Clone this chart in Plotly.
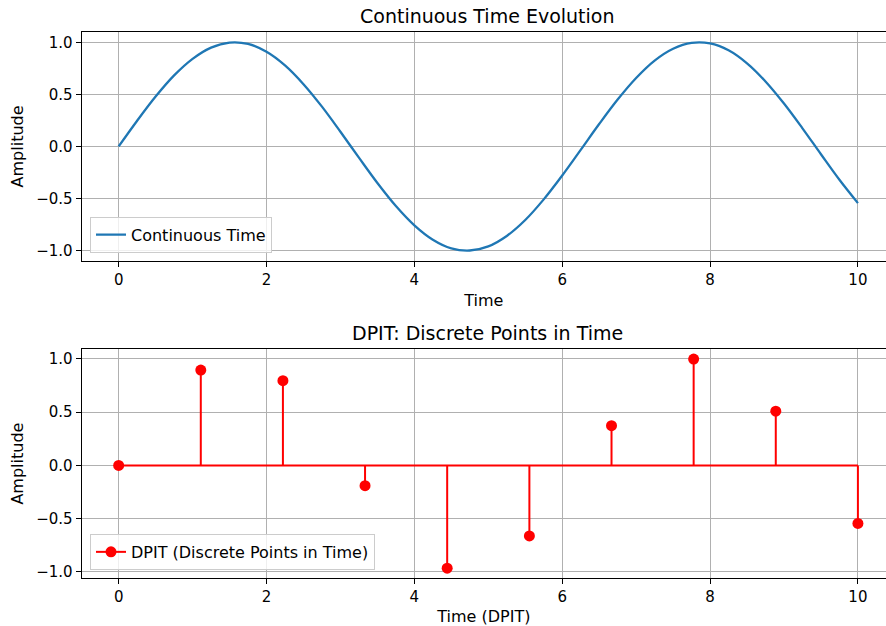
import plotly.graph_objects as go

# Continuous signal sampled every 0.25 time units
t_cont = [i * 0.25 for i in range(41)]
amp_cont = [0.000, 0.247, 0.479, 0.682, 0.841, 0.949, 0.997, 0.984, 0.909, 0.778,
            0.598, 0.382, 0.141, -0.108, -0.351, -0.572, -0.757, -0.895, -0.978, -0.999,
            -0.959, -0.859, -0.706, -0.508, -0.279, -0.033, 0.215, 0.450, 0.657, 0.824,
            0.938, 0.994, 0.989, 0.923, 0.798, 0.624, 0.412, 0.174, -0.075, -0.320,
            -0.544]

# Discrete points in time
t_disc = [0.0, 1.111, 2.222, 3.333, 4.444, 5.556, 6.667, 7.778, 8.889, 10.0]
amp_disc = [0.000, 0.896, 0.796, -0.190, -0.965, -0.662, 0.374, 0.999, 0.510, -0.544]

x_ticks = [0, 2, 4, 6, 8, 10]
y_ticks = [-1.0, -0.5, 0.0, 0.5, 1.0]
y_tick_text = ["\u22121.0", "\u22120.5", "0.0", "0.5", "1.0"]

W, H = 886, 626
FONT = "DejaVu Sans"
GRID = "#b0b0b0"


def py(px):
    return (H - px) / H


top_dom = [py(262.3), py(32.0)]
bot_dom = [py(581.0), py(350.7)]
x_dom = [81.7 / W, 1.0]

fig = go.Figure()

fig.add_trace(go.Scatter(
    x=t_cont, y=amp_cont, mode="lines", name="Continuous Time",
    line=dict(color="#1f77b4", width=2.3, shape="spline"),
    xaxis="x", yaxis="y", legend="legend",
))

# stem plot: baseline, stems, then markers at the tips
fig.add_trace(go.Scatter(
    x=[t_disc[0], t_disc[-1]], y=[0, 0], mode="lines",
    line=dict(color="red", width=2), showlegend=False,
    xaxis="x2", yaxis="y2",
))
sx, sy = [], []
for xv, yv in zip(t_disc, amp_disc):
    sx += [xv, xv, None]
    sy += [0, yv, None]
fig.add_trace(go.Scatter(
    x=sx, y=sy, mode="lines", line=dict(color="red", width=2),
    showlegend=False, xaxis="x2", yaxis="y2",
))
fig.add_trace(go.Scatter(
    x=t_disc, y=amp_disc, mode="markers",
    marker=dict(color="red", size=11, opacity=1, line=dict(width=0)),
    showlegend=False, xaxis="x2", yaxis="y2",
))
# legend entry for the stem series
fig.add_trace(go.Scatter(
    x=[None], y=[None], mode="lines+markers", name="DPIT (Discrete Points in Time)",
    line=dict(color="red", width=2),
    marker=dict(color="red", size=11, opacity=1, line=dict(width=0)),
    xaxis="x2", yaxis="y2", legend="legend2",
))

axis_common = dict(
    showgrid=True, gridcolor=GRID, gridwidth=1.3, zeroline=False,
    showline=True, linecolor="black", linewidth=1.2,
    ticks="outside", ticklen=5, tickwidth=1.2, tickcolor="black",
    tickfont=dict(family=FONT, size=15, color="black"),
)

fig.update_layout(
    width=W, height=H,
    margin=dict(l=0, r=0, t=0, b=0),
    paper_bgcolor="white", plot_bgcolor="white",
    font=dict(family=FONT, size=15, color="black"),
    xaxis=dict(domain=x_dom, range=[-0.5, 10.38], anchor="y", mirror=True,
               tickvals=x_ticks, ticktext=[str(v) for v in x_ticks],
               title=dict(text="Time", font=dict(size=16), standoff=6),
               **axis_common),
    yaxis=dict(domain=top_dom, range=[-1.1, 1.1], anchor="x",
               tickvals=y_ticks, ticktext=y_tick_text,
               title=dict(text="Amplitude", font=dict(size=16), standoff=8),
               **axis_common),
    xaxis2=dict(domain=x_dom, range=[-0.5, 10.38], anchor="y2", mirror=True,
                tickvals=x_ticks, ticktext=[str(v) for v in x_ticks],
                title=dict(text="Time (DPIT)", font=dict(size=16), standoff=5),
                **axis_common),
    yaxis2=dict(domain=bot_dom, range=[-1.059, 1.0935], anchor="x2",
                tickvals=y_ticks, ticktext=y_tick_text,
                title=dict(text="Amplitude", font=dict(size=16), standoff=8),
                **axis_common),
    legend=dict(x=90 / W, y=py(254), xanchor="left", yanchor="bottom",
                bgcolor="rgba(255,255,255,0.8)", bordercolor="#cccccc",
                borderwidth=1, font=dict(size=16)),
    legend2=dict(x=90 / W, y=py(572.7), xanchor="left", yanchor="bottom",
                 bgcolor="rgba(255,255,255,0.8)", bordercolor="#cccccc",
                 borderwidth=1, font=dict(size=16)),
    showlegend=True,
)

centre_x = (x_dom[0] + 1.0) / 2 + 0.004
for text, top in [("Continuous Time Evolution", top_dom[1]),
                  ("DPIT: Discrete Points in Time", bot_dom[1])]:
    fig.add_annotation(text=text, x=centre_x, y=top, xref="paper", yref="paper",
                       xanchor="center", yanchor="bottom", yshift=3,
                       showarrow=False, font=dict(family=FONT, size=19, color="black"))

fig.write_html("out.html")
